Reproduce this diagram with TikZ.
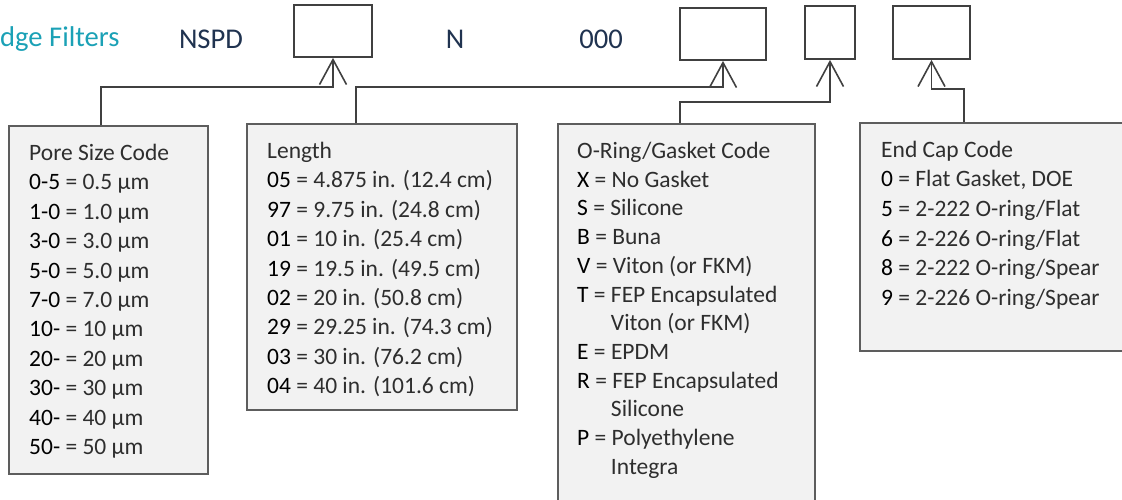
\documentclass[tikz,border=0pt]{standalone}
\usepackage{fontspec}
\setmainfont{Carlito}
\usetikzlibrary{arrows.meta}
\definecolor{teal1}{HTML}{1BA1B6}
\definecolor{navy1}{HTML}{203350}
\definecolor{edge1}{HTML}{404040}
\definecolor{boxfill}{HTML}{F2F2F2}
\definecolor{desc}{HTML}{2E2E2E}
\newcommand{\cd}[1]{\textcolor{black}{#1}}
\newcommand{\ind}{\phantom{T = }}

\begin{document}
\begin{tikzpicture}[x=1pt,y=-1pt,
  slot/.style={draw=edge1,line width=1.8pt,inner sep=0pt},
  codebox/.style={draw=edge1!85,fill=boxfill,line width=1.8pt,inner sep=0pt,anchor=north west},
  codetext/.style={inner sep=0pt,anchor=north west,align=left,text=desc,
    font=\fontsize{23.5}{29.4}\selectfont},
  head/.style={inner sep=0pt,font=\fontsize{28.6}{34}\selectfont,text=navy1},
  link/.style={draw=edge1,line width=1.6pt,-{Straight Barb[length=25pt,width=27pt]}}]
\useasboundingbox (0,0) rectangle (1122,499);

% part number line
\node[head,text=teal1,anchor=west] (title) at (0,39) {dge Filters};
\node[head] (nspd) at (211,39) {NSPD};
\node[slot,minimum width=78,minimum height=52] (b1) at (333,31) {};
\node[head] (n) at (455,39) {N};
\node[head] (zero) at (601,39) {000};
\node[slot,minimum width=86,minimum height=52] (b2) at (723,34) {};
\node[slot,minimum width=50,minimum height=53] (b3) at (830,32.5) {};
\node[slot,minimum width=77,minimum height=53] (b4) at (931.5,32.5) {};

% code boxes
\node[codebox,minimum width=199,minimum height=348] (pore) at (8,125) {};
\node[codebox,minimum width=270,minimum height=286] (len) at (246,123) {};
\node[codebox,minimum width=257,minimum height=390] (oring) at (557,123) {};
\node[codebox,minimum width=280,minimum height=228] (ecap) at (859,122) {};

\node[codetext] (poretext) at ([shift={(21,19)}]pore.north west) {%
  Pore Size Code\\
  \cd{0-5} = 0.5 µm\\ \cd{1-0} = 1.0 µm\\ \cd{3-0} = 3.0 µm\\
  \cd{5-0} = 5.0 µm\\ \cd{7-0} = 7.0 µm\\ \cd{10-} = 10 µm\\
  \cd{20-} = 20 µm\\ \cd{30-} = 30 µm\\ \cd{40-} = 40 µm\\
  \cd{50-} = 50 µm};
\node[codetext] (lentext) at ([shift={(21,19)}]len.north west) {%
  Length\\
  \cd{05} = 4.875 in. (12.4 cm)\\ \cd{97} = 9.75 in. (24.8 cm)\\
  \cd{01} = 10 in. (25.4 cm)\\ \cd{19} = 19.5 in. (49.5 cm)\\
  \cd{02} = 20 in. (50.8 cm)\\ \cd{29} = 29.25 in. (74.3 cm)\\
  \cd{03} = 30 in. (76.2 cm)\\ \cd{04} = 40 in. (101.6 cm)};
\node[codetext,font=\fontsize{23.5}{28.7}\selectfont] (oringtext)
  at ([shift={(20,19)}]oring.north west) {%
  O-Ring/Gasket Code\\
  \cd{X} = No Gasket\\ \cd{S} = Silicone\\ \cd{B} = Buna\\
  \cd{V} = Viton (or FKM)\\ \cd{T} = FEP Encapsulated\\
  \ind Viton (or FKM)\\ \cd{E} = EPDM\\ \cd{R} = FEP Encapsulated\\
  \ind Silicone\\ \cd{P} = Polyethylene\\ \ind Integra};
\node[codetext,font=\fontsize{23.5}{29.7}\selectfont] (ecaptext)
  at ([shift={(22,18.5)}]ecap.north west) {%
  End Cap Code\\
  \cd{0} = Flat Gasket, DOE\\ \cd{5} = 2-222 O-ring/Flat\\
  \cd{6} = 2-226 O-ring/Flat\\ \cd{8} = 2-222 O-ring/Spear\\
  \cd{9} = 2-226 O-ring/Spear};

% connectors
\draw[link] (pore.north west) ++(93,0) -- ++(0,-38) -| (b1.south);
\draw[link] (len.north west) ++(110,0) -- ++(0,-36) -| (b2.south);
\draw[link] (oring.north west) ++(123,0) -- ++(0,-21) -| (b3.south);
\draw[link] (ecap.north west) ++(105,0) -- ++(0,-33) -| (b4.south);
\end{tikzpicture}
\end{document}
